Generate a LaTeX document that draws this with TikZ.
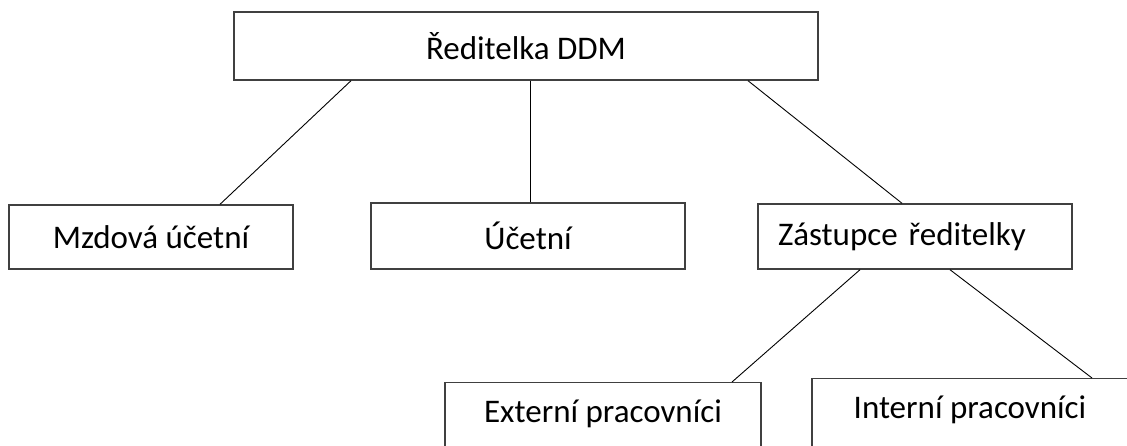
\documentclass[tikz,border=0pt]{standalone}
\usepackage{fontspec}
\setmainfont{Carlito}
\begin{document}
\begin{tikzpicture}[x=1pt, y=-1pt,
    box/.style={draw=black!75, line width=1.4pt, inner sep=0pt, font=\fontsize{33}{39}\selectfont},
    lowbox/.style={box, minimum width=316pt, anchor=north, text height=22pt, text depth=40pt, inner ysep=18pt},
    link/.style={line width=0.9pt}]
            % reditelka
            % mzdova, ucetni, zastupce
            % externi, interni
            \useasboundingbox (0,0) rectangle (1127,445);

            \node[box, minimum width=584pt, minimum height=68pt] (dir) at (526, 46) {Ředitelka DDM};
            \node[box, minimum width=284pt, minimum height=64pt] (mzd) at (151, 237) {Mzdová účetní};
            \node[box, minimum width=314pt, minimum height=66pt] (uct) at (528, 236) {Účetní};
            \node[box, minimum width=314pt, minimum height=65pt, text width=274pt, inner xsep=20pt, align=left] (zas) at (915, 236.5) {Zástupce ředitelky};
            \node[lowbox] (ext) at (603, 382) {Externí pracovníci};
            \node[lowbox] (int) at (970, 378) {Interní pracovníci};

            \draw[link] ([xshift=-175pt]dir.south) -- ([xshift=69pt]mzd.north);
            \draw[link] ([xshift=4pt]dir.south) -- ([xshift=2pt]uct.north);
            \draw[link] ([xshift=222pt]dir.south) -- ([xshift=-13pt]zas.north);
            \draw[link] ([xshift=-55pt]zas.south) -- ([xshift=129pt]ext.north);
            \draw[link] ([xshift=35pt]zas.south) -- ([xshift=122pt]int.north);
        \end{tikzpicture}
\end{document}
